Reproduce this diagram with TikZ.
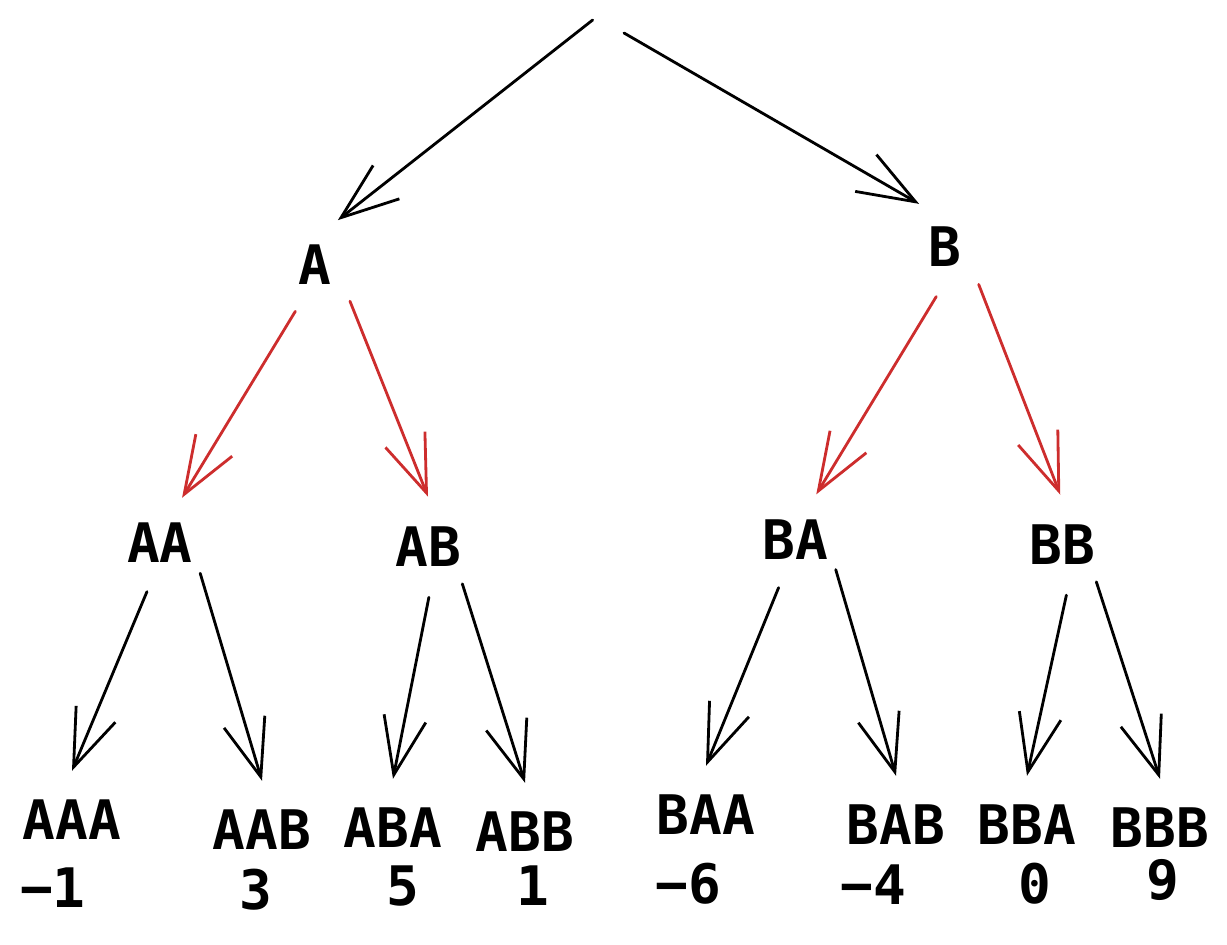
\documentclass[tikz,border=0pt]{standalone}
\usepackage{fontspec}
\setmainfont{DejaVu Sans Mono}
\usetikzlibrary{arrows.meta}
\definecolor{edgered}{RGB}{205,45,45}

\begin{document}
\begin{tikzpicture}[x=0.02cm, y=-0.02cm,
    font=\fontsize{31}{36}\selectfont\bfseries,
    midnode/.style={circle, inner sep=0pt, minimum size=2cm},
    leafnode/.style={inner xsep=0pt, inner ysep=0.58cm},
    valnode/.style={inner sep=0pt},
    treearrow/.style={line width=1.6pt, line cap=round,
        -{Straight Barb[length=1.15cm, width=0.85cm]}},
    redarrow/.style={treearrow, draw=edgered}]
    \useasboundingbox (0,0) rectangle (1227,944);

    % root and first two levels
    \node[circle, inner sep=0pt, minimum size=0.72cm] (root) at (611,20) {};
    \node[midnode] (A) at (315,265) {A};
    \node[midnode] (B) at (945,247) {B};
    \node[midnode] (AA) at (160,543) {AA};
    \node[midnode] (AB) at (428,547) {AB};
    \node[midnode] (BA) at (795,540) {BA};
    \node[midnode] (BB) at (1062,545) {BB};

    % leaves with their values
    \node[leafnode] (AAA) at (72,820) {AAA};
    \node[leafnode] (AAB) at (262,830) {AAB};
    \node[leafnode] (ABA) at (393,828) {ABA};
    \node[leafnode] (ABB) at (525,832) {ABB};
    \node[leafnode] (BAA) at (706,815) {BAA};
    \node[leafnode] (BAB) at (896,825) {BAB};
    \node[leafnode] (BBA) at (1027,825) {BBA};
    \node[leafnode] (BBB) at (1160,828) {BBB};
    \node[valnode] (vAAA) at (53,888) {−1};
    \node[valnode] (vAAB) at (256,890) {3};
    \node[valnode] (vABA) at (403,886) {5};
    \node[valnode] (vABB) at (533,886) {1};
    \node[valnode] (vBAA) at (688,884) {−6};
    \node[valnode] (vBAB) at (873,885) {−4};
    \node[valnode] (vBBA) at (1035,884) {0};
    \node[valnode] (vBBB) at (1163,880) {9};

    \draw[treearrow] (root.180) -- (A.63);
    \draw[treearrow] (root.-45) -- (B.121);
    \draw[redarrow] (A.-113) -- (AA.64);
    \draw[redarrow] (A.-46) -- (AB.90);
    \draw[redarrow] (B.-100) -- (BA.65);
    \draw[redarrow] (B.-48) -- (BB.92);
    \draw[treearrow] (AA.-105) -- (AAA.north);
    \draw[treearrow] (AA.-37) -- (AAB.north);
    \draw[treearrow] (AB.-89) -- (ABA.north);
    \draw[treearrow] (AB.-47) -- (ABB.north);
    \draw[treearrow] (BA.-109) -- (BAA.north);
    \draw[treearrow] (BA.-36) -- (BAB.north);
    \draw[treearrow] (BB.-85) -- (BBA.north);
    \draw[treearrow] (BB.-47) -- (BBB.north);
\end{tikzpicture}
\end{document}
